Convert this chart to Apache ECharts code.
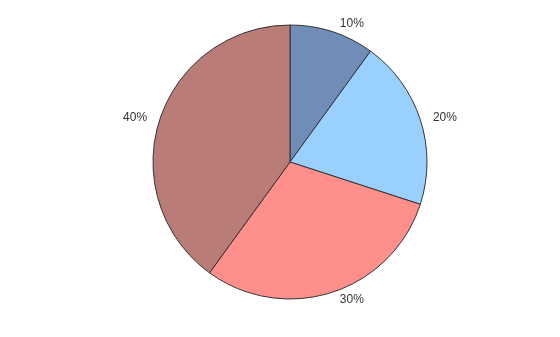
<!DOCTYPE html>
<html><head><meta charset="utf-8">
<script src="https://cdn.jsdelivr.net/npm/echarts@6/dist/echarts.min.js"></script>
<style>html,body{margin:0;padding:0;background:#fff}#c{width:560px;height:337px}</style>
</head><body><div id="c"></div>
<script>
var categories = ['A', 'B', 'C', 'D'];
var values = [10, 20, 30, 40];
var colors = ['#6f8db6', '#99d0ff', '#ff8f8a', '#b97c77'];
var chart = echarts.init(document.getElementById('c'), null, {renderer: 'canvas'});
chart.setOption({
  animation: false,
  series: [{
    type: 'pie',
    center: [290, 162],
    radius: 137,
    startAngle: 90,
    clockwise: true,
    data: categories.map(function (c, i) { return {name: c, value: values[i], itemStyle: {color: colors[i]}}; }),
    itemStyle: {borderColor: '#333', borderWidth: 1},
    label: {
      show: true, position: 'outside', formatter: '{d}%',
      fontFamily: 'Liberation Sans, Arial', fontSize: 12, color: '#333'
    },
    labelLine: {show: false, length: 8, length2: 0},
    emphasis: {disabled: true}
  }]
});
</script></body></html>
